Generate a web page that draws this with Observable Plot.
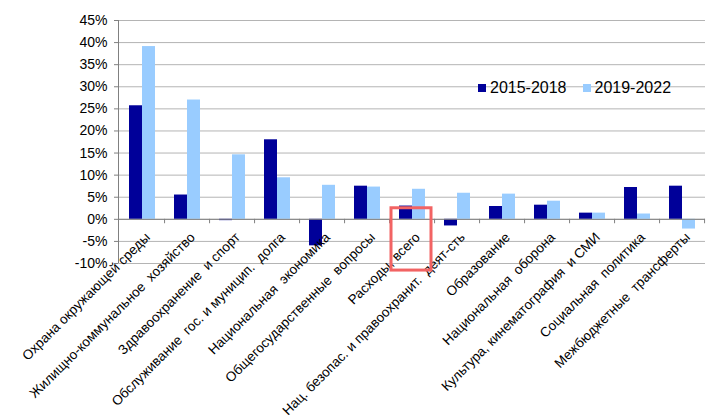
<!DOCTYPE html>
<html>
<head>
<meta charset="utf-8">
<script src="https://cdn.jsdelivr.net/npm/d3@7"></script>
<script src="https://cdn.jsdelivr.net/npm/@observablehq/plot@0.6"></script>
<style>
  html, body { margin: 0; padding: 0; background: #fff; }
  #wrap { position: relative; width: 714px; height: 415px; }
  #wrap svg text { white-space: pre; }
  .legend { position: absolute; top: 79px; left: 478px; font: 16px "Liberation Sans", Arial, sans-serif; color: #000; display: flex; align-items: center; }
  .legend .item { display: flex; align-items: center; margin-right: 16px; }
  .legend .sw { width: 8px; height: 8px; margin-right: 4px; }
</style>
</head>
<body>
<div id="wrap"></div>
<script>
const categories = [
  "Охрана окружающей среды",
  "Жилищно-коммунальное  хозяйство",
  "Здравоохранение  и спорт",
  "Обслуживание  гос. и муницип.  долга",
  "Национальная  экономика",
  "Общегосударственные  вопросы",
  "Расходы, всего",
  "Нац. безопас. и правоохранит.  деят-сть",
  "Образование",
  "Национальная  оборона",
  "Культура, кинематография  и СМИ",
  "Социальная  политика",
  "Межбюджетные  трансферты"
];
const series = ["2015-2018", "2019-2022"];
const values2015 = [25.7, 5.5, -0.3, 18.0, -6.0, 7.5, 3.0, -1.5, 2.9, 3.2, 1.4, 7.2, 7.5];
const values2019 = [39.1, 27.0, 14.6, 9.4, 7.7, 7.3, 6.8, 5.9, 5.7, 4.1, 1.4, 1.2, -2.2];
const yTicks = [-10, -5, 0, 5, 10, 15, 20, 25, 30, 35, 40, 45];
const colors = ["#000099", "#99ccff"];
const highlight = [{cat: "Расходы, всего", top: 2.5, bottom: -11.6}];

const data = categories.flatMap((c, i) => [
  {cat: c, s: series[0], v: values2015[i]},
  {cat: c, s: series[1], v: values2019[i]}
]);

const W = 714, H = 415, mL = 118, mR = 9, mT = 20, mB = 152;
const step = (W - mL - mR) / categories.length;
const font = '"Liberation Sans", Arial, sans-serif';

const plot = Plot.plot({
  width: W, height: H,
  marginLeft: mL, marginRight: mR, marginTop: mT, marginBottom: mB,
  style: {fontFamily: font, fontSize: "13px", color: "#000", background: "#fff", overflow: "visible"},
  x: {domain: categories, padding: 0, axis: null},
  y: {domain: [-10, 45], ticks: yTicks, axis: null},
  marks: [
    Plot.ruleY(yTicks, {stroke: "#b4b4b4", strokeWidth: 1}),
    Plot.barY(data.filter(d => d.s === series[0]), {x: "cat", y: "v", fill: colors[0], insetLeft: 10, insetRight: 22}),
    Plot.barY(data.filter(d => d.s === series[1]), {x: "cat", y: "v", fill: colors[1], insetLeft: 23, insetRight: 9}),
    Plot.ruleY([0], {stroke: "#808080", strokeWidth: 1}),
    Plot.ruleX(categories, {x: d => d, y1: 0, y2: -1, dx: step/2, stroke: "#808080"}),
    Plot.axisY({ticks: yTicks, tickFormat: d => d + "%", tickSize: 4, tickPadding: 7, stroke: "#808080", fontSize: 14, anchor: "left"}),
    Plot.text(categories, {x: d => d, y: () => 0, text: d => d, rotate: -45, textAnchor: "end", lineAnchor: "top", dx: 2, dy: 12, fontSize: 13.5, fill: "#000"}),
    Plot.rect(highlight, {x: "cat", y1: "top", y2: "bottom", stroke: "#f26363", strokeWidth: 3, fill: "none", insetLeft: 2, insetRight: 3, clip: false})
  ]
});

const wrap = document.getElementById("wrap");
wrap.appendChild(plot);
const ys = plot.scale("y");
const svg = d3.select(plot);
svg.append("line")
  .attr("x1", mL + 0.5).attr("x2", mL + 0.5)
  .attr("y1", ys.apply(45)).attr("y2", ys.apply(-10))
  .attr("stroke", "#808080");

const legend = document.createElement("div");
legend.className = "legend";
series.forEach((s, i) => {
  const it = document.createElement("div");
  it.className = "item";
  const sw = document.createElement("div");
  sw.className = "sw";
  sw.style.background = colors[i];
  const t = document.createElement("span");
  t.textContent = s;
  it.appendChild(sw); it.appendChild(t);
  legend.appendChild(it);
});
wrap.appendChild(legend);
</script>
</body>
</html>
